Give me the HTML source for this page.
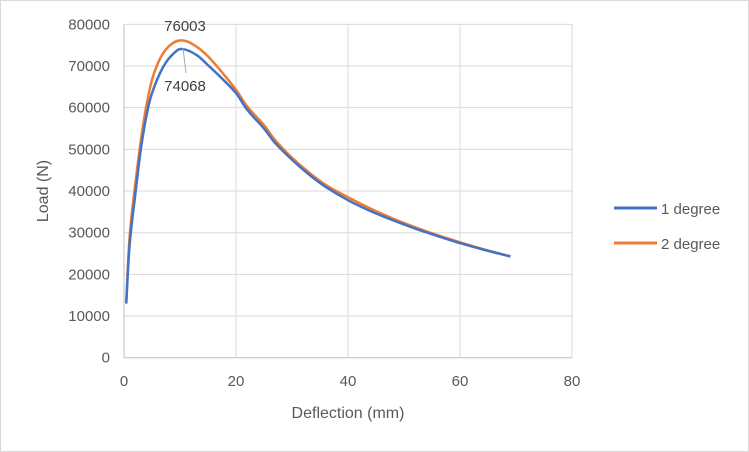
<!DOCTYPE html>
<html><head><meta charset="utf-8"><style>
body{margin:0;background:#fff}
svg{font-family:"Liberation Sans",sans-serif;display:block}
</style></head><body>
<svg width="749" height="452">
<rect x="0.5" y="0.5" width="748" height="451" fill="#fff" stroke="#d9d9d9"/>
<g id="grid"></g>
<g id="axes"></g>
<g id="series"></g>
<text x="185" y="31" font-size="15" fill="#404040" text-anchor="middle">76003</text>
<line x1="183" y1="48" x2="186" y2="73" stroke="#a6a6a6"/>
<text x="185" y="91" font-size="15" fill="#404040" text-anchor="middle">74068</text>
<text x="348" y="418" font-size="16" fill="#595959" text-anchor="middle">Deflection (mm)</text>
<text transform="translate(48,191) rotate(-90)" font-size="16" fill="#595959" text-anchor="middle">Load (N)</text>
<g>
<line x1="614" y1="208" x2="657" y2="208" stroke="#4472c4" stroke-width="3"/>
<text x="661" y="214" font-size="15" fill="#595959">1 degree</text>
<line x1="614" y1="243" x2="657" y2="243" stroke="#ed7d31" stroke-width="3"/>
<text x="661" y="249" font-size="15" fill="#595959">2 degree</text>
</g>
</svg>
<script>
const xTicks=[0,20,40,60,80];
const yTicks=[0,10000,20000,30000,40000,50000,60000,70000,80000];
const x1=[0.4,1,2,3,4,5,7,9,10.5,13,15,17.5,20,22,25,27,30,33,36,40,44,48,52,56,60,64,69];
const y1=[13000,27000,39000,50000,58000,63500,69800,73200,74068,72600,70200,67000,63500,59500,55000,51500,47500,44000,41000,37800,35200,33000,31000,29200,27500,26000,24300];
const x2=[0.4,1,2,3,4,5.2,7,9.1,11,13,15,17.5,20,22,25,27,30,33,36,40,44,48,52,56,60,64,69];
const y2=[13000,29000,41500,52000,60500,67600,73100,75800,76003,74600,72300,68500,64300,60300,55800,52200,48000,44500,41500,38500,35800,33400,31300,29400,27700,26100,24300];
const X=v=>124+v*5.6, Y=v=>357.7-v*0.004167;
const ns="http://www.w3.org/2000/svg";
const grid=document.getElementById('grid'),axes=document.getElementById('axes'),ser=document.getElementById('series');
function mk(tag,attrs,parent){const e=document.createElementNS(ns,tag);for(const k in attrs)e.setAttribute(k,attrs[k]);parent.appendChild(e);return e;}
function smooth(xs,ys){const p=xs.map((v,i)=>[X(v),Y(ys[i])]);let d='M'+p[0][0]+','+p[0][1];
 for(let i=0;i<p.length-1;i++){const a=p[Math.max(i-1,0)],b=p[i],c=p[i+1],e=p[Math.min(i+2,p.length-1)];
 const c1=[b[0]+(c[0]-a[0])/6,b[1]+(c[1]-a[1])/6],c2=[c[0]-(e[0]-b[0])/6,c[1]-(e[1]-b[1])/6];
 d+=' C'+c1[0]+','+c1[1]+' '+c2[0]+','+c2[1]+' '+c[0]+','+c[1];}return d;}
xTicks.forEach(t=>{
 if(t>0){const l=mk('line',{x1:X(t),x2:X(t),y1:Y(80000),y2:Y(0),stroke:'#d9d9d9'},grid);
 
 }
 const tx=mk('text',{x:X(t),y:386,'font-size':15,fill:'#595959','text-anchor':'middle'},axes);tx.textContent=t;
 
 
});
yTicks.forEach(t=>{
 if(t>0){const l=mk('line',{x1:X(0),x2:X(80),y1:Y(t),y2:Y(t),stroke:'#d9d9d9'},grid);
 
 }
 const tx=mk('text',{x:110,y:Y(t)+5,'font-size':15,fill:'#595959','text-anchor':'end'},axes);tx.textContent=t;
 
 
});
const ax=mk('line',{x1:X(0),x2:X(80),y1:Y(0),y2:Y(0),stroke:'#bfbfbf'},axes);


const ay=mk('line',{x1:X(0),x2:X(0),y1:Y(0),y2:Y(80000),stroke:'#bfbfbf'},axes);


const p2=mk('path',{d:smooth(x2,y2),fill:'none',stroke:'#ed7d31','stroke-width':2.5,'stroke-linejoin':'round'},ser);


const p1=mk('path',{d:smooth(x1,y1),fill:'none',stroke:'#4472c4','stroke-width':2.5,'stroke-linejoin':'round'},ser);


</script>
</body></html>
